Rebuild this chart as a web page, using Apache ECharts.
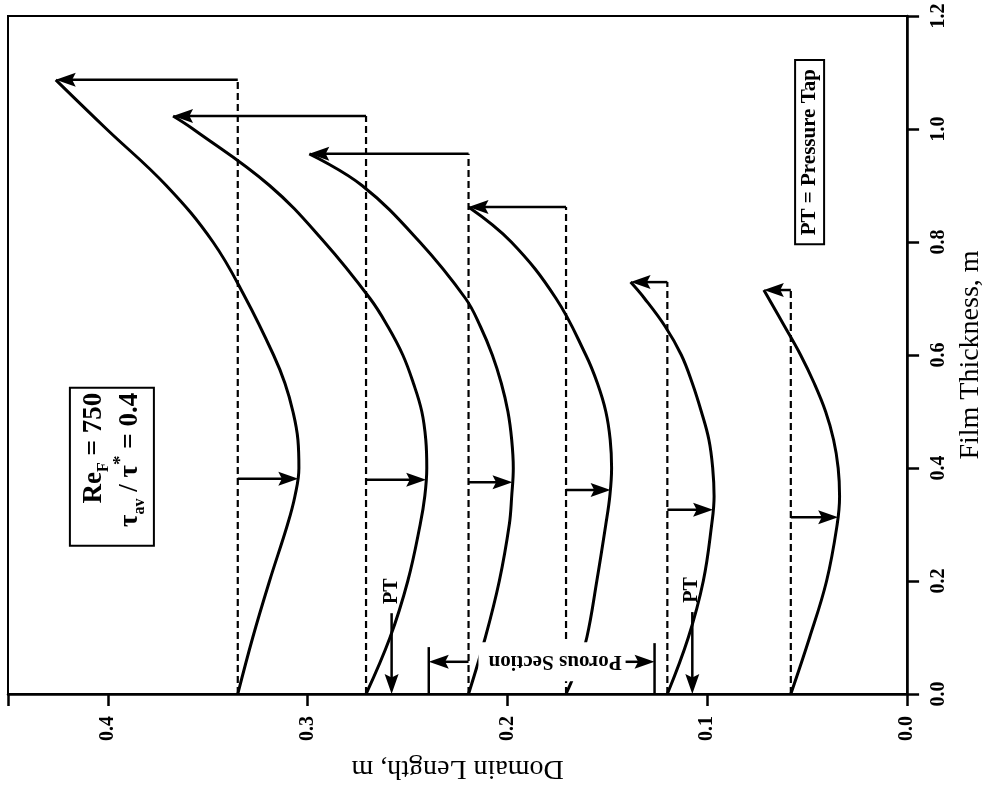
<!DOCTYPE html>
<html><head><meta charset="utf-8">
<script src="https://cdn.jsdelivr.net/npm/echarts@6/dist/echarts.min.js"></script>
<style>html,body{margin:0;padding:0;background:#fff}#c{width:993px;height:795px}</style>
</head><body><div id="c"></div>
<script>
// Axis ticks
const domainTicks = [0.0, 0.1, 0.2, 0.3, 0.4];               // Domain Length, m
const thicknessTicks = [0.0, 0.2, 0.4, 0.6, 0.8, 1.0, 1.2];   // Film Thickness, m

// Curves: [domain length, film thickness]
const curve1 = [[0.3350,0],[0.3275,0.1],[0.3191,0.2],[0.3101,0.3],[0.3064,0.35],[0.3044,0.4],[0.3049,0.45],[0.3074,0.5],[0.3114,0.55],[0.3171,0.6],[0.3310,0.7],[0.3474,0.8],[0.3708,0.9],[0.4007,1.0],[0.4261,1.087]];
const curve2 = [[0.2708,0],[0.2588,0.1],[0.2499,0.2],[0.2437,0.3],[0.2414,0.35],[0.2404,0.4],[0.2409,0.45],[0.2429,0.5],[0.2471,0.55],[0.2524,0.6],[0.2598,0.65],[0.2688,0.7],[0.2917,0.8],[0.3191,0.9],[0.3574,1.0],[0.3674,1.023]];
const curve3 = [[0.2195,0],[0.2111,0.1],[0.2041,0.2],[0.1991,0.3],[0.1979,0.35],[0.1971,0.4],[0.1979,0.45],[0.1998,0.5],[0.2031,0.55],[0.2076,0.6],[0.2135,0.65],[0.2210,0.7],[0.2439,0.8],[0.2728,0.9],[0.2992,0.956]];
const curve4 = [[0.1707,0],[0.1648,0.05],[0.1603,0.1],[0.1553,0.2],[0.1508,0.3],[0.1488,0.35],[0.1479,0.4],[0.1486,0.45],[0.1508,0.5],[0.1550,0.55],[0.1608,0.6],[0.1757,0.7],[0.1981,0.8],[0.2195,0.862]];
const curve5 = [[0.1200,0],[0.1095,0.1],[0.1020,0.2],[0.0978,0.3],[0.0966,0.35],[0.0973,0.4],[0.0992,0.45],[0.1030,0.5],[0.1075,0.55],[0.1130,0.6],[0.1210,0.65],[0.1314,0.7],[0.1384,0.729]];
const curve6 = [[0.0582,0],[0.0488,0.1],[0.0403,0.2],[0.0350,0.3],[0.0338,0.35],[0.0345,0.4],[0.0368,0.45],[0.0408,0.5],[0.0465,0.55],[0.0533,0.6],[0.0612,0.65],[0.0717,0.715]];
const curves = [curve1, curve2, curve3, curve4, curve5, curve6];

// Dashed reference lines (domain length) and arrows
const baseLength = [0.335, 0.2708, 0.2195, 0.1707, 0.1200, 0.0582];
const minArrowThick = [0.381, 0.379, 0.375, 0.361, 0.326, 0.313];
const minArrowEnd = [0.3047, 0.2407, 0.1975, 0.1484, 0.0971, 0.0345];
const pressureTaps = [0.258, 0.1075];
const tapArrowTop = [0.143, 0.145];
const porousEdges = [0.2394, 0.1264];
const porousEdgeTop = [0.083, 0.090];
const porousArrowStart = [0.2195, 0.1409];
const porousArrowThick = 0.057;

const FONT = '"Liberation Serif", "Times New Roman", serif';

// segment tables: [x1, y1, x2, y2, head]
const dashedSegs = baseLength.map((b, i) => [b, 0, b, curves[i][curves[i].length - 1][1], 0]);
const arrowSegs = [];
curves.forEach((c, i) => {
  const tip = c[c.length - 1];
  arrowSegs.push([baseLength[i], tip[1], tip[0], tip[1], 1]);
  arrowSegs.push([baseLength[i], minArrowThick[i], minArrowEnd[i], minArrowThick[i], 1]);
});
pressureTaps.forEach((d, i) => arrowSegs.push([d, tapArrowTop[i], d, 0, 1]));
porousEdges.forEach((d, i) => {
  arrowSegs.push([d, 0, d, porousEdgeTop[i], 0]);
  arrowSegs.push([porousArrowStart[i], porousArrowThick, d, porousArrowThick, 1]);
});

function segRender(width, dash) {
  return function (params, api) {
    const p1 = api.coord([api.value(0), api.value(1)]);
    const p2 = api.coord([api.value(2), api.value(3)]);
    const head = api.value(4);
    const children = [];
    let end = p2;
    if (head) {
      const dx = p2[0] - p1[0], dy = p2[1] - p1[1];
      const L = Math.hypot(dx, dy) || 1;
      const ux = dx / L, uy = dy / L;
      const hl = 20, hw = 7;
      const bx = p2[0] - ux * hl, by = p2[1] - uy * hl;
      const nx = p2[0] - ux * hl * 0.82, ny = p2[1] - uy * hl * 0.82;
      end = [p2[0] - ux * hl * 0.6, p2[1] - uy * hl * 0.6];
      children.push({ type: 'polygon', shape: { points: [p2, [bx - uy * hw, by + ux * hw], [nx, ny], [bx + uy * hw, by - ux * hw]] }, style: { fill: '#000' } });
    }
    children.unshift({ type: 'line', shape: { x1: p1[0], y1: p1[1], x2: end[0], y2: end[1] }, style: { stroke: '#000', lineWidth: width, lineDash: dash } });
    return { type: 'group', children };
  };
}

const chart = echarts.init(document.getElementById('c'), null, { renderer: 'canvas' });
const series = curves.map((c) => ({
  type: 'line', data: c, showSymbol: false, smooth: 0.4, z: 3,
  lineStyle: { color: '#000', width: 3 }, silent: true
}));
series.push({ type: 'custom', data: dashedSegs, renderItem: segRender(2.2, [7, 4]), z: 2, silent: true });
series.push({ type: 'custom', data: arrowSegs, renderItem: segRender(2.5, null), z: 60, silent: true });

chart.setOption({
  animation: false,
  backgroundColor: '#fff',
  grid: { left: 8, right: 82, top: 16, bottom: 101, show: true, borderColor: '#000', borderWidth: 2 },
  xAxis: {
    type: 'value', min: domainTicks[0], max: 0.45, interval: 0.1, inverse: true, position: 'bottom',
    name: 'Domain Length, m', nameLocation: 'middle', nameGap: 60, nameRotate: 180,
    nameTextStyle: { fontFamily: FONT, fontSize: 28, color: '#000' },
    axisLine: { show: true, lineStyle: { color: '#000', width: 2.5 } },
    axisTick: { show: true, length: 12, lineStyle: { color: '#000', width: 2.5 } },
    axisLabel: { rotate: 90, margin: 22, fontFamily: FONT, fontSize: 20, fontWeight: 'bold', color: '#000',
      formatter: v => domainTicks.includes(Math.round(v * 10) / 10) ? v.toFixed(1) : '' },
    splitLine: { show: false }
  },
  yAxis: {
    type: 'value', min: thicknessTicks[0], max: thicknessTicks[thicknessTicks.length - 1], interval: 0.2, position: 'right',
    name: 'Film Thickness, m', nameLocation: 'middle', nameGap: 40, nameRotate: 90,
    nameTextStyle: { fontFamily: FONT, fontSize: 28, color: '#000' },
    axisLine: { show: true, lineStyle: { color: '#000', width: 2.5 } },
    axisTick: { show: true, length: 12, lineStyle: { color: '#000', width: 2.5 } },
    axisLabel: { rotate: 90, margin: 22, fontFamily: FONT, fontSize: 20, fontWeight: 'bold', color: '#000',
      formatter: v => v.toFixed(1) },
    splitLine: { show: false }
  },
  series
});

const P = (d, t) => chart.convertToPixel({ gridIndex: 0 }, [d, t]);
const pBox = P(0.398, 0.402);
const pTap = P(0.0488, 0.959);
const pPT1 = P(pressureTaps[0], 0.182);
const pPT2 = P(pressureTaps[1], 0.184);
const pPor = P(0.1762, porousArrowThick);

chart.setOption({
  graphic: { elements: [
    { type: 'group', x: pBox[0], y: pBox[1], rotation: Math.PI / 2, z: 50, children: [
      { type: 'rect', z: 50, shape: { x: -79, y: -42, width: 158, height: 84 }, style: { fill: '#fff', stroke: '#000', lineWidth: 2 } },
      { type: 'text', z: 51, x: 74, y: 0, style: {
        text: '{m|Re}{s|F}{m| = 750}\n{m|τ}{s|av}{m| / τ}{p|*}{m| = 0.4}',
        align: 'right', verticalAlign: 'middle',
        rich: {
          m: { fontFamily: FONT, fontSize: 27, fontWeight: 'bold', fill: '#000', lineHeight: 36 },
          s: { fontFamily: FONT, fontSize: 16, fontWeight: 'bold', fill: '#000', verticalAlign: 'bottom', lineHeight: 16 },
          p: { fontFamily: FONT, fontSize: 19, fontWeight: 'bold', fill: '#000', verticalAlign: 'top', lineHeight: 19 }
        } } }
    ] },
    { type: 'text', x: pTap[0], y: pTap[1], rotation: Math.PI / 2, z: 50, style: {
      text: 'PT = Pressure Tap', fontFamily: FONT, fontSize: 21, fontWeight: 'bold', fill: '#000',
      align: 'center', verticalAlign: 'middle', backgroundColor: '#fff', borderColor: '#000', borderWidth: 2, padding: [3, 8] } },
    { type: 'text', x: pPT1[0], y: pPT1[1], rotation: Math.PI / 2, z: 50, style: {
      text: 'PT', fontFamily: FONT, fontSize: 20, fontWeight: 'bold', fill: '#000', align: 'center', verticalAlign: 'middle' } },
    { type: 'text', x: pPT2[0], y: pPT2[1], rotation: Math.PI / 2, z: 50, style: {
      text: 'PT', fontFamily: FONT, fontSize: 20, fontWeight: 'bold', fill: '#000', align: 'center', verticalAlign: 'middle' } },
    { type: 'text', x: pPor[0], y: pPor[1], rotation: Math.PI, z: 50, style: {
      text: 'Porous Section', fontFamily: FONT, fontSize: 21, fontWeight: 'bold', fill: '#000', align: 'center', verticalAlign: 'middle',
      backgroundColor: '#fff', padding: [9, 10] } }
  ] }
});
</script></body></html>
